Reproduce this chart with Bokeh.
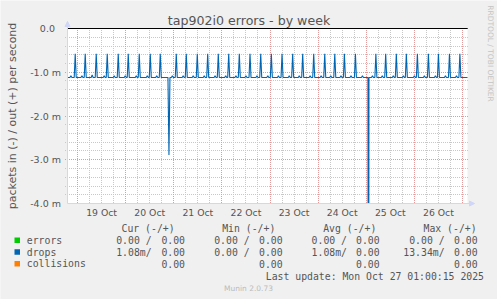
import math
from bokeh.plotting import figure
from bokeh.models import Label, Arrow, NormalHead, Range1d, BoxAnnotation
from bokeh.embed import file_html
from bokeh.resources import INLINE

# ---------------- data ----------------
# time axis: hours since 2025-10-19 00:00 ; values in milli-packets per second
x_start_h = -5.0
x_end_h = 194.5
day_tick_h = [12, 36, 60, 84, 108, 132, 156, 180]
day_labels = ["19 Oct", "20 Oct", "21 Oct", "22 Oct", "23 Oct", "24 Oct", "25 Oct", "26 Oct"]
y_ticks = [0, -1, -2, -3, -4]
y_labels = ["0.0\u00a0\u00a0", "-1.0 m", "-2.0 m", "-3.0 m", "-4.0 m"]
y_min, y_max = -4.0, 0.0

drops_in_base = -1.12
spike_h = [-1.15, 3.84, 9.33, 14.82, 20.31, 25.30, 30.79, 36.28, 41.27,
           49.25, 54.24, 59.73, 64.92, 70.21, 75.40, 80.69, 86.03, 91.37,
           96.66, 102.0, 107.3, 112.3, 117.8, 123.3, 128.3, 133.1, 138.6,
           148.8, 153.7, 159.0, 164.0, 169.5, 175.0, 180.0, 185.5, 190.7]
spike_v = [-0.58, -0.58, -0.58, -0.58, -0.58, -0.58, -0.58, -0.58, -0.58,
           -0.58, -0.58, -0.58, -0.58, -0.58, -0.58, -0.58, -0.58, -0.58,
           -0.58, -0.58, -0.58, -0.58, -0.58, -0.58, -0.58, -0.58, -0.58,
           -0.58, -0.58, -0.58, -0.58, -0.58, -0.58, -0.58, -0.58, -0.58]
bump_h = [-3.3, 2.2, 7.3, 13.3, 18.3, 23.8, 29.3, 34.8, 39.5, 47.3, 52.7,
          57.7, 63.2, 68.6, 73.9, 79.0, 84.0, 89.5, 94.9, 100.2, 105.6,
          110.6, 116.0, 121.5, 126.3, 131.4, 136.4, 142.1, 147.1, 152.0,
          157.5, 162.5, 168.0, 173.0, 178.5, 183.5, 189.0]
bump_v = [-1.08, -1.08, -1.06, -1.08, -1.08, -1.08, -1.08, -1.08, -1.08,
          -1.08, -1.08, -1.08, -1.08, -1.08, -1.08, -1.08, -1.08, -1.08,
          -1.08, -1.08, -1.08, -1.08, -1.08, -1.08, -1.08, -1.08, -1.08,
          -1.08, -1.08, -1.08, -1.08, -1.08, -1.08, -1.08, -1.08, -1.08,
          -1.08]
dip_h = [45.6, 145.1]
dip_v = [-2.89, -13.34]
dip_halfwidth_h = [0.5, 0.25]

out_h = [x_start_h, x_end_h]
errors_out = [0.0, 0.0]
drops_out = [0.0, 0.0]
collisions_out = [0.0, 0.0]

legend_names = ["errors", "drops", "collisions"]
legend_colors = ["#00CC00", "#0066B3", "#FF8000"]
col_headers = ["Cur (-/+)", "Min (-/+)", "Avg (-/+)", "Max (-/+)"]
neg_vals = [["0.00 /", "0.00 /", "0.00 /", "0.00 /"],
            ["1.08m/", "0.00 /", "1.08m/", "13.34m/"],
            ["", "", "", ""]]
pos_vals = [["0.00", "0.00", "0.00", "0.00"],
            ["0.00", "0.00", "0.00", "0.00"],
            ["0.00", "0.00", "0.00", "0.00"]]
title_text = "tap902i0 errors - by week"
y_axis_title = "packets in (-) / out (+) per second"
update_text = "Last update: Mon Oct 27 01:00:15 2025"
munin_text = "Munin 2.0.73"
side_text = "RRDTOOL / TOBI OETIKER"

# ---------------- pixel layout (canvas pixels, top-left origin) ----------------
W, H = 497, 299
FL, FR = 67.0, 467.0          # plot-area left / right
FT0 = 28.0                    # y pixel of value 0
PX_PER_UNIT = 43.75           # pixels per 1.0 m
FB = FT0 + (y_max - y_min) * PX_PER_UNIT


def cx(px):
    return x_start_h + (px - FL) / (FR - FL) * (x_end_h - x_start_h)


def cy(py):
    return y_max - (py - FT0) / PX_PER_UNIT


def px_of_h(h):
    return FL + (h - x_start_h) / (x_end_h - x_start_h) * (FR - FL)


def py_of_v(v):
    return FT0 + (y_max - v) * PX_PER_UNIT


def snap(p):
    return float(round(p))


FONT = "#555555"
AXIS = "#CFD6F8"
p = figure(width=W, height=H, title=None,
           x_range=Range1d(cx(0), cx(W)), y_range=Range1d(cy(H), cy(0)),
           x_axis_location=None, y_axis_location=None,
           output_backend="svg", toolbar_location=None,
           min_border_left=0, min_border_right=0, min_border_top=0, min_border_bottom=0,
           background_fill_color="#F0F0F0", border_fill_color="#F0F0F0",
           outline_line_color=None)
p.grid.visible = False

# white canvas of the graph
p.add_layout(BoxAnnotation(left=x_start_h, right=x_end_h, top=y_max, bottom=y_min,
                           fill_color="white", fill_alpha=1.0, line_color=None,
                           level="underlay"))

# ---------------- grid (dotted, rrdtool style) ----------------
minor_h = list(range(0, 194, 6))
major_h = list(range(0, 194, 24))
minor_v = [round(-0.2 * i, 1) for i in range(1, 20)]
major_v = [-1, -2, -3]


def seg_lists(vert_h, horiz_v, extra_down=0):
    x0, y0, x1, y1 = [], [], [], []
    for h in vert_h:
        xx = cx(snap(px_of_h(h)))
        x0.append(xx); x1.append(xx)
        y0.append(cy(FT0 - 0.5)); y1.append(cy(FB + extra_down))
    for v in horiz_v:
        yy = cy(snap(py_of_v(v)))
        y0.append(yy); y1.append(yy)
        x0.append(cx(FL - 2.5)); x1.append(cx(FR + 1.5))
    return x0, y0, x1, y1


gx0, gy0, gx1, gy1 = seg_lists(minor_h, minor_v)
p.segment(gx0, gy0, gx1, gy1, line_color="#C8C8C8", line_width=1, line_dash="1 1")
mx0, my0, mx1, my1 = seg_lists(major_h, major_v, extra_down=2)
p.segment(mx0, my0, mx1, my1, line_color="#E49A9A", line_width=1, line_dash="1 1")

# ---------------- series ----------------
events = [(t, v, 0.5) for t, v in zip(spike_h, spike_v)]
events += [(t, v, 0.5) for t, v in zip(bump_h, bump_v)]
events += [(t, v, w) for t, v, w in zip(dip_h, dip_v, dip_halfwidth_h)]
xs = [x_start_h]
ys = [drops_in_base]
for t, v, w in sorted(events):
    xs += [t - w, t, t + w]
    ys += [drops_in_base, v, drops_in_base]
xs.append(x_end_h)
ys.append(drops_in_base)

p.line(out_h, errors_out, line_color=legend_colors[0], line_width=1)
p.line(xs, ys, line_color=legend_colors[1], line_width=1.1)
p.line(out_h, drops_out, line_color=legend_colors[1], line_width=1)
p.line(out_h, collisions_out, line_color=legend_colors[2], line_width=1)
p.line(out_h, [0.0, 0.0], line_color="black", line_width=1)

# mask anything drawn below the graph area (values beyond the lower limit)
p.add_layout(BoxAnnotation(left=cx(0), right=cx(W), top=cy(FB + 0.5), bottom=cy(H),
                           fill_color="#F0F0F0", fill_alpha=1.0, line_color=None))

# axes with arrows
p.add_layout(Arrow(end=NormalHead(size=5, fill_color=AXIS, line_color=AXIS),
                   x_start=x_start_h, y_start=y_min, x_end=x_start_h, y_end=cy(21),
                   line_color=AXIS, line_width=1))
p.add_layout(Arrow(end=NormalHead(size=5, fill_color=AXIS, line_color=AXIS),
                   x_start=x_start_h, y_start=y_min, x_end=cx(474), y_end=y_min,
                   line_color=AXIS, line_width=1))

# ---------------- texts ----------------
def label(x, y, text, align="left", font="DejaVu Sans", size="9.5px", color=FONT, angle=0.0):
    p.add_layout(Label(x=x, y=y, text=text, text_align=align, text_baseline="middle",
                       text_font=font, text_font_size=size, text_color=color, angle=angle))


label(cx(248.5), cy(20), title_text, align="center", size="12.6px")
label(cx(489.5), cy(53), side_text, align="center", size="7.5px", color="#C4C4C4",
      angle=-math.pi / 2)
label(cx(12), cy((FT0 + FB) / 2), y_axis_title, align="center", size="11px",
      angle=math.pi / 2)

for v, t in zip(y_ticks, y_labels):
    label(cx(60.5), v, t, align="right", size="9.5px")
for h, t in zip(day_tick_h, day_labels):
    label(h, cy(212.3), t, align="center", size="9.3px")

MONO = "DejaVu Sans Mono"
MSIZE = "9.8px"
header_x = [121, 221.7, 322.7, 423]
neg_right = [151.1, 249.1, 346.5, 444.1]
pos_right = [184.5, 282.1, 379.1, 477.1]
row_y = [239.7, 251.5, 263.3]

for hx, ht in zip(header_x, col_headers):
    label(cx(hx), cy(228), ht, font=MONO, size=MSIZE)

for i, name in enumerate(legend_names):
    ry = row_y[i]
    p.add_layout(BoxAnnotation(left=cx(14), right=cx(19.5), top=cy(ry - 2.7), bottom=cy(ry + 2.7),
                               fill_color=legend_colors[i], fill_alpha=1.0, line_color=None))
    label(cx(26.3), cy(ry), name, font=MONO, size=MSIZE)
    for j in range(4):
        if neg_vals[i][j]:
            label(cx(neg_right[j]), cy(ry), neg_vals[i][j], align="right", font=MONO, size=MSIZE)
        label(cx(pos_right[j]), cy(ry), pos_vals[i][j], align="right", font=MONO, size=MSIZE)

label(cx(483.5), cy(276), update_text, align="right", font=MONO, size=MSIZE)
label(cx(248), cy(287.7), munin_text, align="center", size="7.5px", color="#BBBBBB")

open("out.html", "w").write(file_html(p, INLINE))
